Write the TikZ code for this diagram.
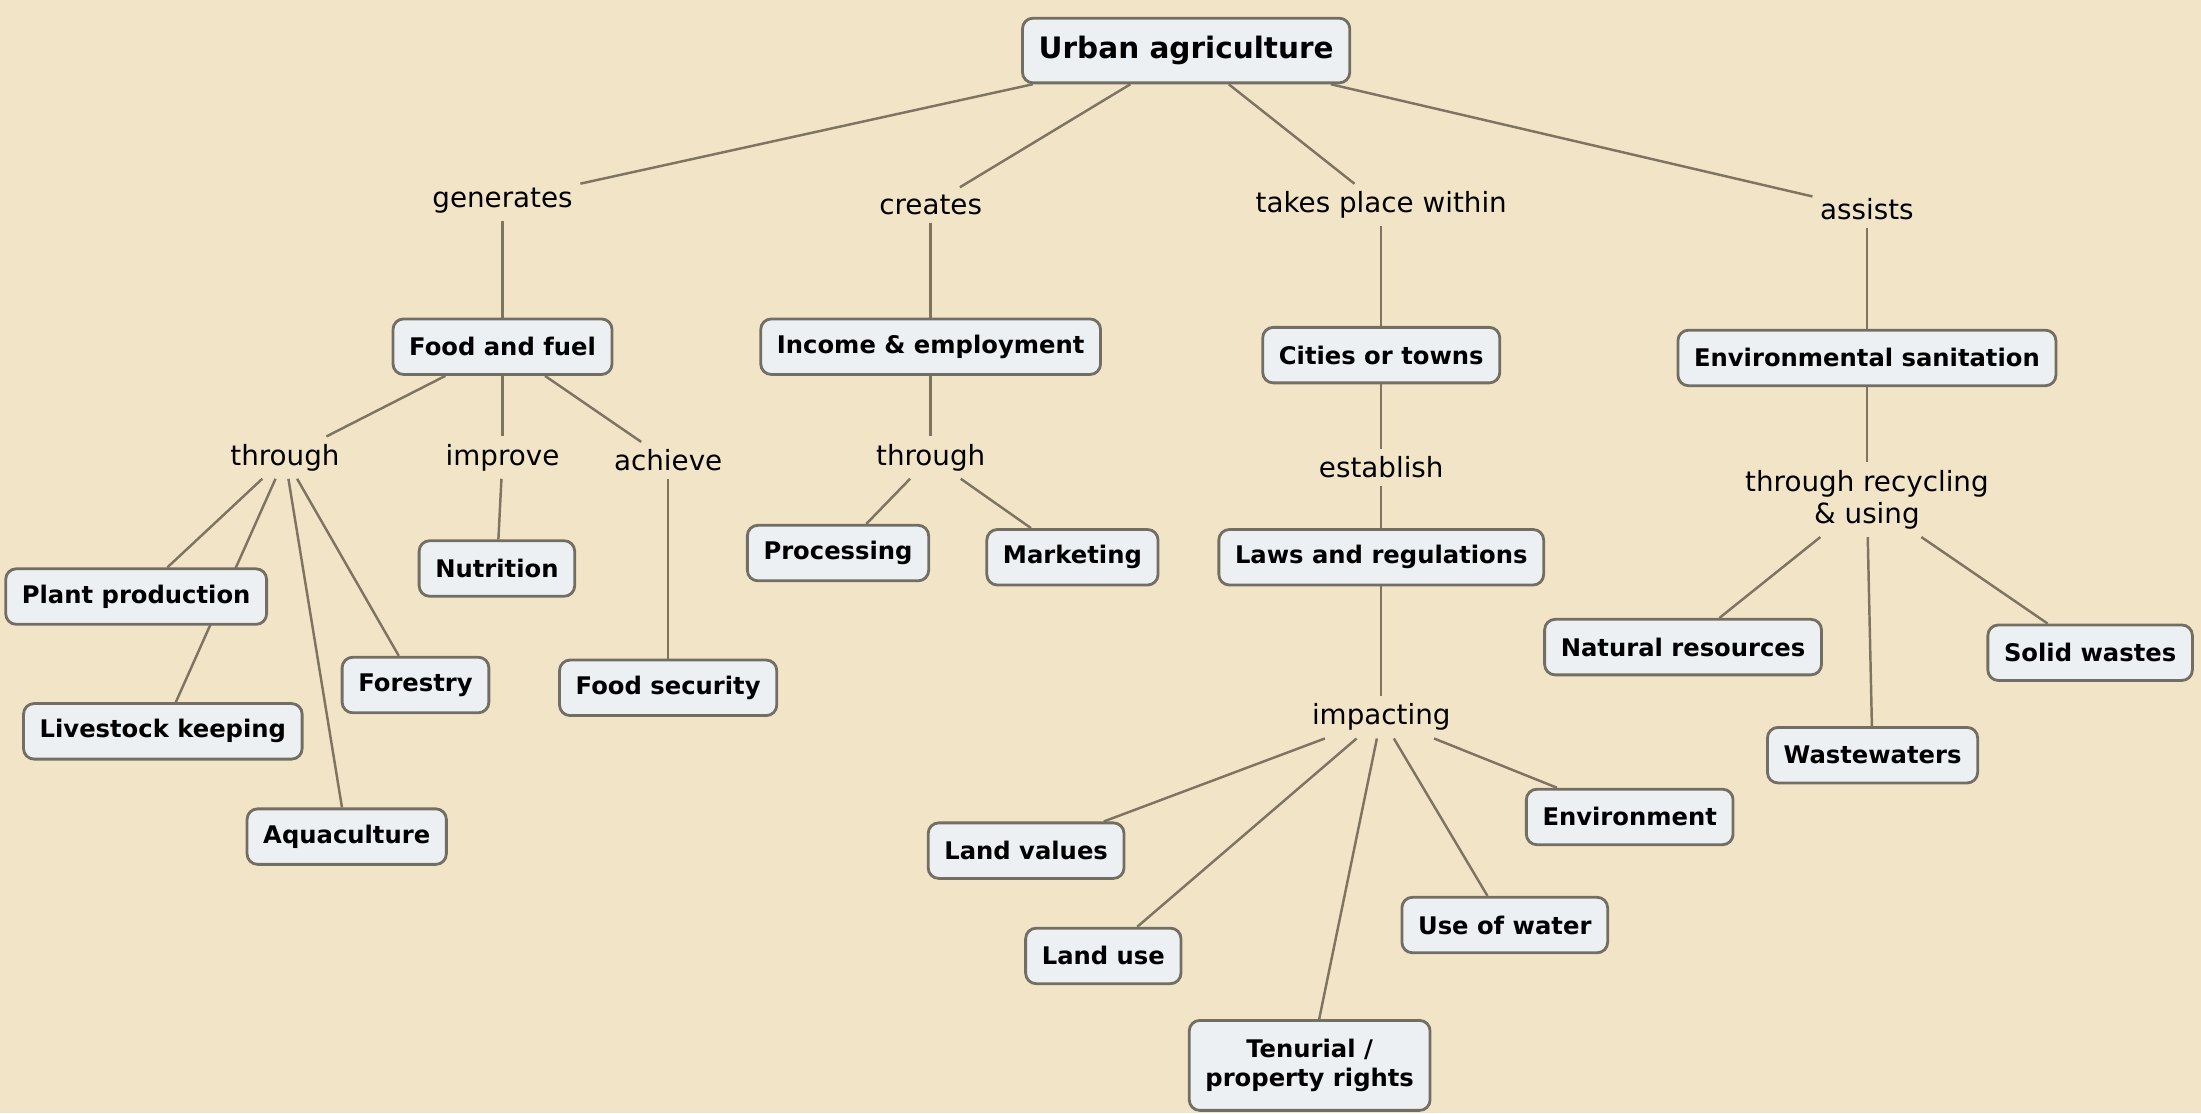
\documentclass[tikz,border=0pt]{standalone}
\usepackage{fontspec}
\setmainfont{DejaVu Sans}
\usepackage{tikz}
\usepackage{xcolor}
\usetikzlibrary{positioning}
\definecolor{mybg}{RGB}{242,229,199}
\definecolor{mybox}{RGB}{236,240,243}
\definecolor{myedge}{RGB}{115,110,100}
\definecolor{myline}{RGB}{125,116,98}
\pgfdeclarelayer{bg}
\pgfdeclarelayer{lines}
\pgfsetlayers{bg,lines,main}

\begin{document}
\begin{tikzpicture}[x=0.014037cm,y=-0.014037cm,
    concept/.style={draw=myedge,line width=0.8pt,fill=mybox,rounded corners=3pt,
      font=\bfseries\fontsize{6.9}{8.2}\selectfont,inner xsep=4.6pt,inner ysep=2pt,
      minimum height=15.8pt,align=center},
    phrase/.style={font=\fontsize{7.9}{9.2}\selectfont,inner sep=2pt,align=center},
    link/.style={myline,line width=0.7pt}]
        \begin{pgfonlayer}{bg}
          \fill[mybg](0,0) rectangle (1568,793);
        \end{pgfonlayer}
        \useasboundingbox (0,0) rectangle (1568,793);
        % top
        \node[concept,font=\bfseries\fontsize{8.4}{10}\selectfont,minimum height=18.4pt] (urban) at (845,36) {Urban agriculture};
        \node[phrase] (generates) at (358,143) {generates};
        \node[phrase] (creates) at (663,146) {creates};
        \node[phrase] (takesplace) at (984,146) {takes place within};
        \node[phrase] (assists) at (1330,149) {assists};
        % second row
        \node[concept] (foodfuel) at (358,247) {Food and fuel};
        \node[concept] (income) at (663,247) {Income \& employment};
        \node[concept] (cities) at (984,253) {Cities or towns};
        \node[concept] (envsan) at (1330,255) {Environmental sanitation};
        \node[phrase] (through1) at (203,326) {through};
        \node[phrase] (improve) at (358,326) {improve};
        \node[phrase] (achieve) at (476,328) {achieve};
        \node[phrase] (through2) at (663,326) {through};
        \node[phrase] (establish) at (984,333) {establish};
        \node[phrase] (recycling) at (1330,356) {through recycling\\\& using};
        % leaves
        \node[concept] (plant) at (97,425) {Plant production};
        \node[concept] (nutrition) at (354,405) {Nutrition};
        \node[concept] (forestry) at (296,488) {Forestry};
        \node[concept] (foodsec) at (476,490) {Food security};
        \node[concept] (livestock) at (116,521) {Livestock keeping};
        \node[concept] (aqua) at (247,596) {Aquaculture};
        \node[concept] (processing) at (597,394) {Processing};
        \node[concept] (marketing) at (764,397) {Marketing};
        \node[concept] (laws) at (984,397) {Laws and regulations};
        \node[concept] (natres) at (1199,461) {Natural resources};
        \node[concept] (solid) at (1489,465) {Solid wastes};
        \node[concept] (wastew) at (1334,538) {Wastewaters};
        \node[phrase] (impacting) at (984,511) {impacting};
        \node[concept] (environment) at (1161,582) {Environment};
        \node[concept] (landval) at (731,606) {Land values};
        \node[concept] (wateruse) at (1072,659) {Use of water};
        \node[concept] (landuse) at (786,681) {Land use};
        \node[concept,minimum height=25.6pt] (tenurial) at (933,759) {Tenurial /\\property rights};
        % links
        \begin{pgfonlayer}{lines}
          \foreach \a/\b in {urban/generates,urban/creates,urban/takesplace,urban/assists,
              generates/foodfuel,creates/income,takesplace/cities,assists/envsan,
              foodfuel/through1,foodfuel/improve,foodfuel/achieve,income/through2,
              cities/establish,envsan/recycling,
              through1/plant,through1/livestock,through1/forestry,through1/aqua,
              improve/nutrition,achieve/foodsec,through2/processing,through2/marketing,
              establish/laws,laws/impacting,
              recycling/natres,recycling/wastew,recycling/solid,
              impacting/landval,impacting/landuse,impacting/tenurial,
              impacting/wateruse,impacting/environment}
            \draw[link](\a)--(\b);
        \end{pgfonlayer}
      \end{tikzpicture}
\end{document}
